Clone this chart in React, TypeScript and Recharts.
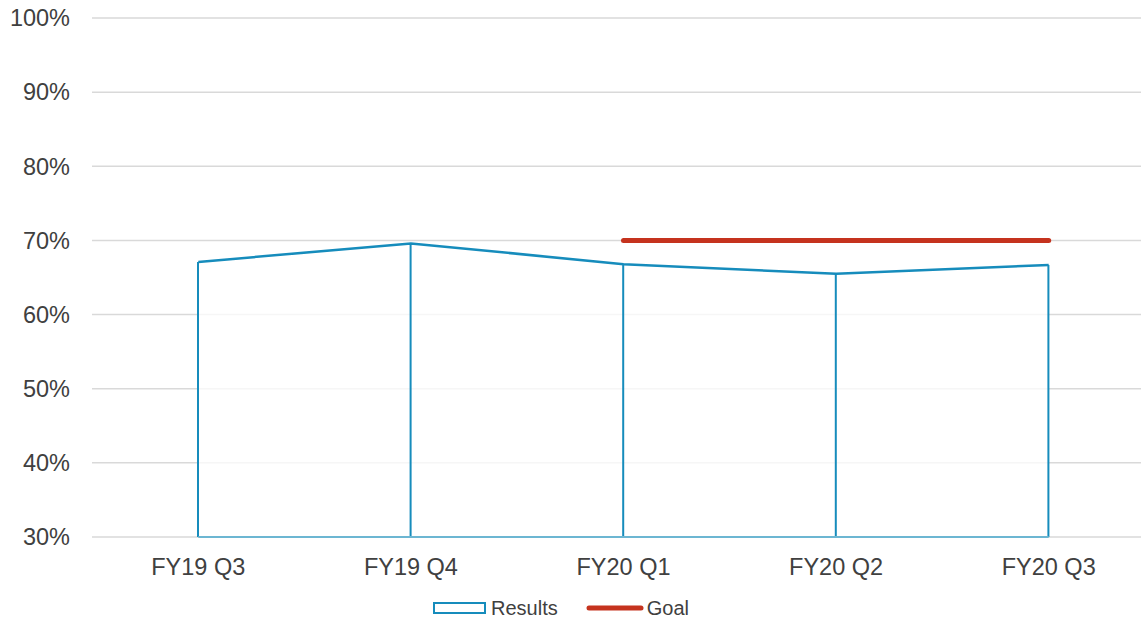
import {
  Area,
  Bar,
  CartesianGrid,
  ComposedChart,
  Legend,
  Line,
  ReferenceLine,
  XAxis,
  YAxis,
} from "recharts";

const quarters = ["FY19 Q3", "FY19 Q4", "FY20 Q1", "FY20 Q2", "FY20 Q3"];
const results = [67.1, 69.6, 66.8, 65.5, 66.7];
const goal = [null, null, 70, 70, 70];
const yTicks = [30, 40, 50, 60, 70, 80, 90, 100];

const BLUE = "#168cbc";
const RED = "#c5331e";
const TEXT = "#404040";
const FONT = "'Liberation Sans', Arial, sans-serif";

const data = quarters.map((q, i) => ({ q, results: results[i], goal: goal[i] }));

function LegendContent() {
  return (
    <div
      style={{
        display: "flex",
        justifyContent: "center",
        alignItems: "center",
        height: 42,
        fontFamily: FONT,
        fontSize: 20,
        color: TEXT,
        lineHeight: "22px",
        boxSizing: "border-box",
        paddingBottom: 2,
        marginTop: 11,
      }}
    >
      <svg width={54} height={12} style={{ marginRight: 4 }}>
        <rect x={1} y={1} width={51} height={10} fill="#fff" stroke={BLUE} strokeWidth={2} />
      </svg>
      <span>Results</span>
      <svg width={58} height={8} style={{ marginLeft: 28, marginRight: 3 }}>
        <line x1={3} y1={4} x2={55} y2={4} stroke={RED} strokeWidth={5} strokeLinecap="round" />
      </svg>
      <span>Goal</span>
    </div>
  );
}

export default function App() {
  return (
    <div
      style={{
        position: "fixed",
        left: 0,
        top: 0,
        width: 1141,
        height: 619,
        overflow: "hidden",
        background: "#fff",
      }}
    >
      <ComposedChart
        width={1155}
        height={619}
        data={data}
        margin={{ top: 18, right: 0, left: 0, bottom: 0 }}
      >
        <CartesianGrid stroke="#d9d9d9" strokeWidth={1.5} vertical={false} />
        <XAxis
          dataKey="q"
          axisLine={false}
          tickLine={false}
          height={40}
          tickMargin={15}
          tick={{ fill: TEXT, fontSize: 23.5, fontFamily: FONT }}
        />
        <YAxis
          domain={[30, 100]}
          ticks={yTicks}
          width={92}
          axisLine={false}
          tickLine={false}
          tickMargin={16}
          tickFormatter={(v) => `${v}%`}
          tick={{ fill: TEXT, fontSize: 23.5, fontFamily: FONT }}
        />
        <Area
          type="linear"
          dataKey="results"
          baseValue={30}
          stroke={BLUE}
          strokeWidth={2.5}
          fill="#ffffff"
          fillOpacity={0.75}
          isAnimationActive={false}
        />
        <Bar dataKey="results" barSize={2} fill={BLUE} isAnimationActive={false} />
        <ReferenceLine
          segment={[
            { x: quarters[0], y: 30 },
            { x: quarters[quarters.length - 1], y: 30 },
          ]}
          stroke="#6cb6d2"
          strokeWidth={2}
        />
        <Line
          type="linear"
          dataKey="goal"
          stroke={RED}
          strokeWidth={5}
          strokeLinecap="round"
          dot={false}
          activeDot={false}
          isAnimationActive={false}
        />
        <Legend
          verticalAlign="bottom"
          content={<LegendContent />}
          wrapperStyle={{ left: 0, width: 1122, height: 42 }}
        />
      </ComposedChart>
    </div>
  );
}
